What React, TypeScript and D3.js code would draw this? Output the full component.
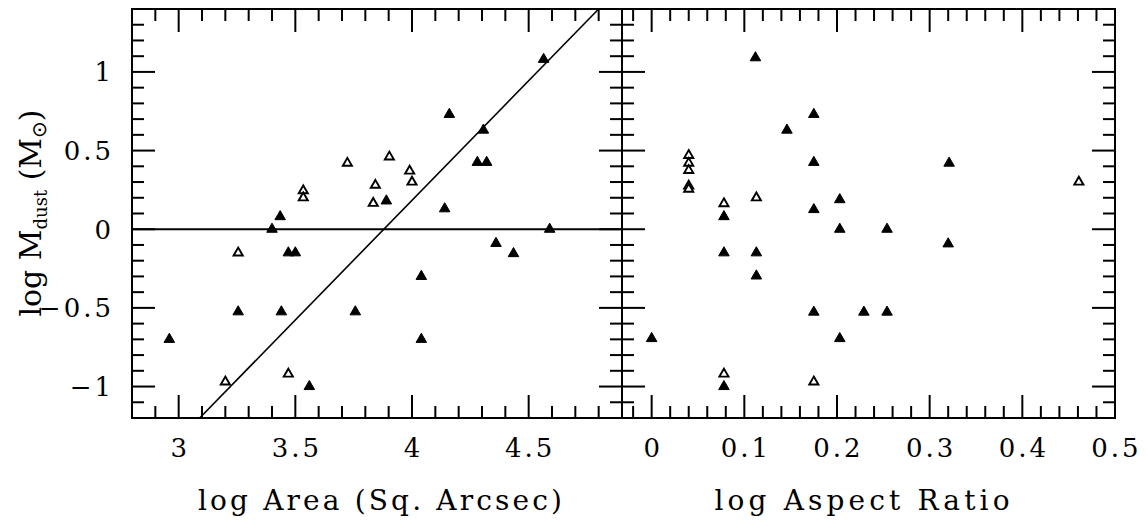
import React, { useEffect, useRef } from "react";
import * as d3 from "d3";

// left panel: log Area vs log Mdust
const areaFilled: [number, number][] = [
  [2.96, -0.7], [3.255, -0.525], [3.4, 0.0], [3.435, 0.08], [3.44, -0.525],
  [3.47, -0.15], [3.5, -0.15], [3.56, -1.0], [3.757, -0.525], [3.89, 0.18],
  [4.04, -0.3], [4.04, -0.7], [4.14, 0.13], [4.16, 0.73], [4.28, 0.425],
  [4.306, 0.63], [4.32, 0.425], [4.36, -0.09], [4.435, -0.155], [4.564, 1.08],
  [4.59, 0.0],
];
const areaOpen: [number, number][] = [
  [3.2, -0.97], [3.255, -0.15], [3.47, -0.92], [3.534, 0.245], [3.534, 0.2],
  [3.723, 0.42], [3.834, 0.165], [3.843, 0.28], [3.903, 0.46], [3.99, 0.37],
  [4.0, 0.3],
];
// right panel: log Aspect Ratio vs log Mdust
const aspectFilled: [number, number][] = [
  [0.0, -0.695], [0.078, 0.08], [0.078, -0.15], [0.078, -1.0], [0.112, 1.09],
  [0.113, -0.15], [0.113, -0.297], [0.146, 0.63], [0.175, 0.73], [0.175, 0.425],
  [0.175, 0.125], [0.175, -0.527], [0.203, 0.188], [0.203, 0.0], [0.203, -0.695],
  [0.229, -0.527], [0.254, 0.0], [0.254, -0.527], [0.321, 0.42], [0.32, -0.093],
];
const aspectOpen: [number, number][] = [
  [0.04, 0.47], [0.04, 0.42], [0.04, 0.374], [0.04, 0.275], [0.04, 0.255],
  [0.078, 0.163], [0.078, -0.92], [0.113, 0.2], [0.175, -0.97], [0.461, 0.3],
];
const fitLine: [number, number][] = [[3.09, -1.2], [4.8, 1.4]];
const zeroLine: [number, number][] = [[2.8, 0], [4.9, 0]];

const areaTicks = [3, 3.5, 4, 4.5];
const aspectTicks = [0, 0.1, 0.2, 0.3, 0.4, 0.5];
const massTicks = [-1, -0.5, 0, 0.5, 1];

const FONT = "DejaVu Serif";

const fmt = (v: number) => (v < 0 ? "\u2212" + Math.abs(v) : String(v));

const App = () => {
  const ref = useRef<SVGSVGElement>(null);

  useEffect(() => {
    const svg = d3.select(ref.current);
    svg.selectAll("*").remove();

    const top = 9, bottom = 418;
    const xL = d3.scaleLinear().domain([2.8, 4.9]).range([132, 622]);
    const xR = d3.scaleLinear().domain([-0.032, 0.5]).range([622, 1115]);
    const y = d3.scaleLinear().domain([-1.2, 1.4]).range([bottom, top]);

    const bigT = 23, smallT = 12;
    const tickG = svg.append("g").attr("stroke", "#000").attr("stroke-width", 2);

    // x ticks top and bottom, pointing inward
    const xTicks = (sc: d3.ScaleLinear<number, number>, vals: number[], isMajor: (i: number) => boolean) => {
      vals.forEach((v, i) => {
        const px = sc(v);
        const len = isMajor(i) ? bigT : smallT;
        tickG.append("line").attr("x1", px).attr("x2", px).attr("y1", bottom).attr("y2", bottom - len);
        tickG.append("line").attr("x1", px).attr("x2", px).attr("y1", top).attr("y2", top + len);
      });
    };
    const lIdx = d3.range(29, 49);
    xTicks(xL, lIdx.map((i) => i / 10), (k) => lIdx[k] % 5 === 0);
    const rIdx = d3.range(-1, 25);
    xTicks(xR, rIdx.map((i) => i * 0.02), (k) => rIdx[k] % 5 === 0);

    const yIdx = d3.range(-11, 14);
    yIdx.forEach((i) => {
      const py = y(i / 10);
      const len = i % 5 === 0 ? bigT : smallT;
      [[132, 1], [622, -1], [622, 1], [1115, -1]].forEach(([x0, dir]) => {
        tickG.append("line").attr("x1", x0).attr("x2", x0 + dir * len).attr("y1", py).attr("y2", py);
      });
    });

    // frames
    [[132, 622], [622, 1115]].forEach(([a, b]) => {
      svg.append("rect").attr("x", a).attr("y", top).attr("width", b - a)
        .attr("height", bottom - top).attr("fill", "none").attr("stroke", "#000").attr("stroke-width", 2);
    });

    // reference lines in left panel
    const line = d3.line<[number, number]>().x((d) => xL(d[0])).y((d) => y(d[1]));
    svg.append("path").attr("d", line(zeroLine)).attr("stroke", "#000").attr("stroke-width", 2).attr("fill", "none");
    svg.append("path").attr("d", line(fitLine)).attr("stroke", "#000").attr("stroke-width", 1.6).attr("fill", "none");

    // markers
    const tri = d3.symbol(d3.symbolTriangle, 48)();
    const triOpen = d3.symbol(d3.symbolTriangle, 36)();
    const drawPts = (data: [number, number][], sc: d3.ScaleLinear<number, number>, open: boolean) => {
      svg.append("g").selectAll("path").data(data).join("path")
        .attr("d", open ? triOpen : tri)
        .attr("transform", (d) => `translate(${sc(d[0])},${y(d[1])})`)
        .attr("fill", open ? "#fff" : "#000")
        .attr("stroke", "#000")
        .attr("stroke-width", open ? 1.9 : 1);
    };
    drawPts(areaOpen, xL, true);
    drawPts(areaFilled, xL, false);
    drawPts(aspectOpen, xR, true);
    drawPts(aspectFilled, xR, false);

    // tick labels
    const lab = svg.append("g").attr("font-family", FONT).attr("font-size", 26)
      .attr("letter-spacing", 3).attr("fill", "#000");
    areaTicks.forEach((v) => {
      lab.append("text").attr("x", xL(v) + 1.5).attr("y", 457).attr("text-anchor", "middle").text(fmt(v));
    });
    aspectTicks.forEach((v) => {
      lab.append("text").attr("x", xR(v) + 1.5).attr("y", 457).attr("text-anchor", "middle").text(fmt(v));
    });
    massTicks.forEach((v) => {
      lab.append("text").attr("x", 114).attr("y", y(v)).attr("dy", "0.36em").attr("text-anchor", "end").text(fmt(v));
    });

    // axis titles
    const titles = svg.append("g").attr("font-family", FONT).attr("font-size", 28).attr("fill", "#000");
    titles.append("text").attr("x", 380).attr("y", 510).attr("text-anchor", "middle")
      .attr("textLength", 364).attr("lengthAdjust", "spacing").text("log Area (Sq. Arcsec)");
    titles.append("text").attr("x", 862).attr("y", 510).attr("text-anchor", "middle")
      .attr("textLength", 295).attr("lengthAdjust", "spacing").text("log Aspect Ratio");

    const yt = titles.append("text").attr("transform", "translate(41,213) rotate(-90)")
      .attr("text-anchor", "middle").attr("font-size", 30);
    yt.append("tspan").text("log M");
    yt.append("tspan").attr("font-size", 18).attr("dy", 6).text("dust");
    yt.append("tspan").attr("dy", -6).text(" (M");
    yt.append("tspan").attr("font-size", 20).attr("font-family", "DejaVu Sans").attr("dy", 5).text("\u2299");
    yt.append("tspan").attr("dy", -5).text(")");
  }, []);

  return (
    <svg
      ref={ref}
      width={1148}
      height={525}
      style={{ position: "absolute", left: 0, top: 0, background: "#fff" }}
    />
  );
};

export default App;
